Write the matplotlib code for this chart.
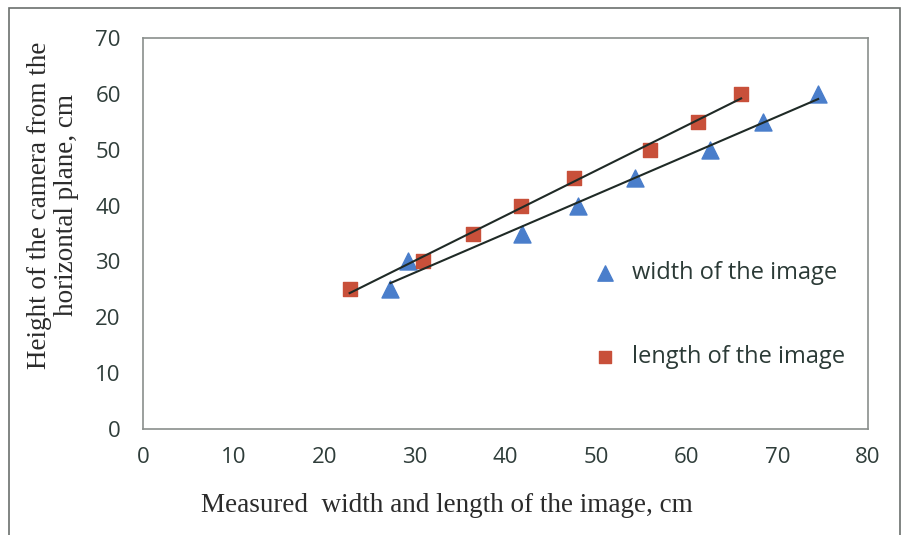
import matplotlib
matplotlib.use('Agg')
import matplotlib.pyplot as plt
import numpy as np

# measured width of the image (triangles)
width_x = [27.3, 29.2, 41.8, 48.0, 54.3, 62.6, 68.4, 74.5]
width_y = [25, 30, 35, 40, 45, 50, 55, 60]
# measured length of the image (squares)
length_x = [22.8, 30.9, 36.4, 41.7, 47.6, 56.0, 61.2, 66.0]
length_y = [25, 30, 35, 40, 45, 50, 55, 60]

x_ticks = [0, 10, 20, 30, 40, 50, 60, 70, 80]
y_ticks = [0, 10, 20, 30, 40, 50, 60, 70]

blue = '#4a7ecb'
red = '#c8503a'
tick_font = 'Open Sans'
serif_font = 'Liberation Serif'
W, H = 903, 535

fig = plt.figure(figsize=(9.03, 5.35), dpi=100)
ax = fig.add_axes([143 / W, 1 - 429 / H, (868 - 143) / W, (429 - 38) / H])

ax.scatter(width_x, width_y, marker='^', s=150, color=blue, label='width of the image', zorder=3)
ax.scatter(length_x, length_y, marker='s', s=90, color=red, label='length of the image', zorder=3)

# linear trendlines
for xs, ys in [(width_x, width_y), (length_x, length_y)]:
    p = np.poly1d(np.polyfit(xs, ys, 1))
    xx = np.array([min(xs), max(xs)])
    ax.plot(xx, p(xx), color='#1f2a26', lw=1.5, zorder=4)

ax.set_xlim(0, 80)
ax.set_ylim(0, 70)
ax.set_xticks(x_ticks)
ax.set_yticks(y_ticks)
ax.tick_params(length=0, labelsize=16, colors='#2f3d3a')
ax.tick_params(axis='x', pad=13)
ax.tick_params(axis='y', pad=16)
for lab in ax.get_xticklabels() + ax.get_yticklabels():
    lab.set_fontfamily(tick_font)
for s in ax.spines.values():
    s.set_color('#8a8f8c')
    s.set_linewidth(1.2)

fig.text(447 / W, 1 - 505 / H, 'Measured  width and length of the image, cm', fontsize=19.5,
         fontfamily=serif_font, color='#2b2b2b', ha='center', va='center')
fig.text(53 / W, 1 - 205 / H, 'Height of the camera from the\nhorizontal plane, cm',
         rotation=90, ha='center', va='center', fontsize=19.5, fontfamily=serif_font,
         color='#2b2b2b', linespacing=1.1)

leg = ax.legend(loc='upper left', bbox_to_anchor=(572 / W, 1 - 240 / H),
                bbox_transform=fig.transFigure, frameon=False,
                labelspacing=2.55, handlelength=1.0, handletextpad=0.64,
                prop={'family': tick_font, 'size': 17}, markerscale=0.9)
for t in leg.get_texts():
    t.set_color('#2b3a36')

# outer frame
fig.patches.append(plt.Rectangle((9 / W, -0.05), (900 - 9) / W, 1.05 - 8 / H, transform=fig.transFigure,
                                 fill=False, edgecolor='#6b6f6d', lw=1.2))

fig.savefig('out.png', dpi=100)
